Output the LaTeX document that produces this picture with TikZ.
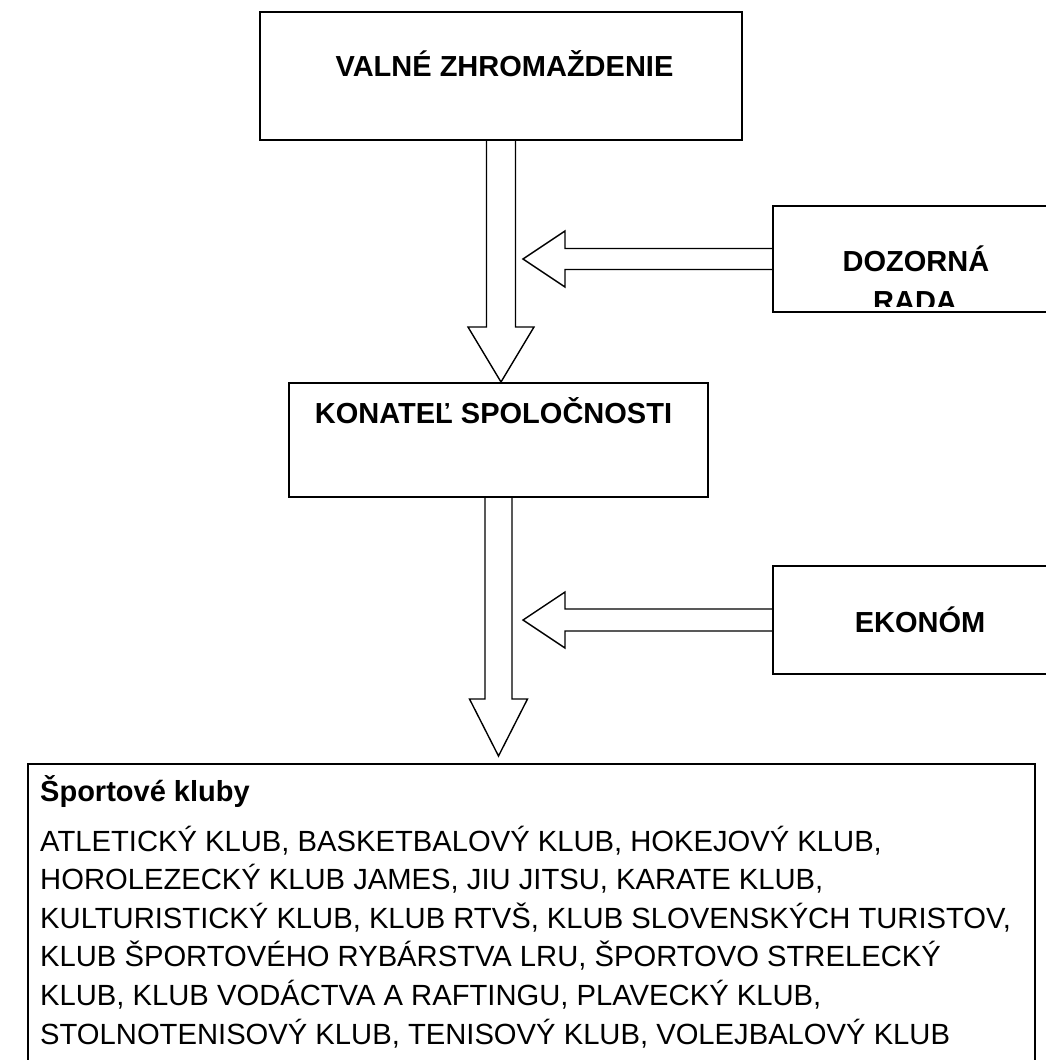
\documentclass[tikz,border=0pt]{standalone}
\usepackage{fontspec}
\setmainfont{Liberation Sans}
\usetikzlibrary{calc}

\tikzset{
  box/.style={draw, line width=2pt, inner sep=0pt},
  blockarr/.style={draw, line width=1.4pt, line join=miter},
  boxtitle/.style={font=\fontsize{29}{38.6}\selectfont\bfseries, inner sep=0pt},
  clubtext/.style={font=\fontsize{29.2}{38.6}\selectfont, inner sep=0pt}
}

\begin{document}
\begin{tikzpicture}[x=1pt, y=-1pt]

\useasboundingbox (0,0) rectangle (1046,1060);
\clip (0,0) rectangle (1046,1060);
\fill[white] (0,0) rectangle (1046,1060);

% boxes
\node[box, minimum width=482pt, minimum height=128pt] (valne) at (501,76) {};
\node[box, minimum width=419pt, minimum height=114pt] (konatel) at (498.5,440) {};
\node[box, minimum width=307pt, minimum height=106pt] (dozorna) at (926.5,259) {};
\node[box, minimum width=307pt, minimum height=108pt] (ekonom) at (926.5,620) {};
\node[box, minimum width=1007pt, minimum height=320pt] (kluby) at (531.5,924) {};

% texts
\node[boxtitle, anchor=base] (valnet) at (504.5,76) {VALNÉ ZHROMAŽDENIE};
\node[boxtitle, anchor=base] (konatelt) at (493.5,423) {KONATEĽ SPOLOČNOSTI};
\begin{scope}
\clip (dozorna.north west) rectangle ($(dozorna.south east)+(0,-7)$);
\node[boxtitle, anchor=base] (dozornat) at (916,271) {DOZORNÁ};
\node[boxtitle, anchor=base] (radat) at (915,311) {RADA};
\end{scope}
\node[boxtitle, anchor=base] (ekonomt) at (920,632) {EKONÓM};
\node[boxtitle, anchor=base west] (klubyt) at (40,801) {Športové kluby};

\foreach \txt [count=\i from 0] in {%
  {ATLETICKÝ KLUB, BASKETBALOVÝ KLUB, HOKEJOVÝ KLUB,},
  {HOROLEZECKÝ KLUB JAMES, JIU JITSU, KARATE KLUB,},
  {KULTURISTICKÝ KLUB, KLUB RTVŠ, KLUB SLOVENSKÝCH TURISTOV,},
  {KLUB ŠPORTOVÉHO RYBÁRSTVA LRU, ŠPORTOVO STRELECKÝ},
  {KLUB, KLUB VODÁCTVA A RAFTINGU, PLAVECKÝ KLUB,},
  {STOLNOTENISOVÝ KLUB, TENISOVÝ KLUB, VOLEJBALOVÝ KLUB}}
  \node[clubtext, anchor=base west] (line\i) at (40,{851+38.6*\i}) {\txt};

% arrow tips
\coordinate (tip1) at (konatel.north -| valne.south);
\coordinate (tip2) at ($(konatel.south |- kluby.north)+(0,-7)$);
\coordinate (tip3) at ($(valne.south |- dozorna.west)+(22,0)$);
\coordinate (tip4) at ($(valne.south |- ekonom.west)+(22,0)$);

% block arrows
\draw[blockarr, shift={(valne.south)}] (-14.5,0) -- (-14.5,186) -- (-33,186)
  -- (tip1) -- (33,186) -- (14.5,186) -- (14.5,0);
\draw[blockarr, shift={(konatel.south)}] (-13.5,0) -- (-13.5,201) -- (-29,201)
  -- (tip2) -- (29,201) -- (13.5,201) -- (13.5,0);
\draw[blockarr, shift={(dozorna.west)}] (0,-10.5) -- (-207,-10.5) -- (-207,-28)
  -- (tip3) -- (-207,28) -- (-207,10.5) -- (0,10.5);
\draw[blockarr, shift={(ekonom.west)}] (0,-11) -- (-207,-11) -- (-207,-28)
  -- (tip4) -- (-207,28) -- (-207,11) -- (0,11);

\end{tikzpicture}
\end{document}
